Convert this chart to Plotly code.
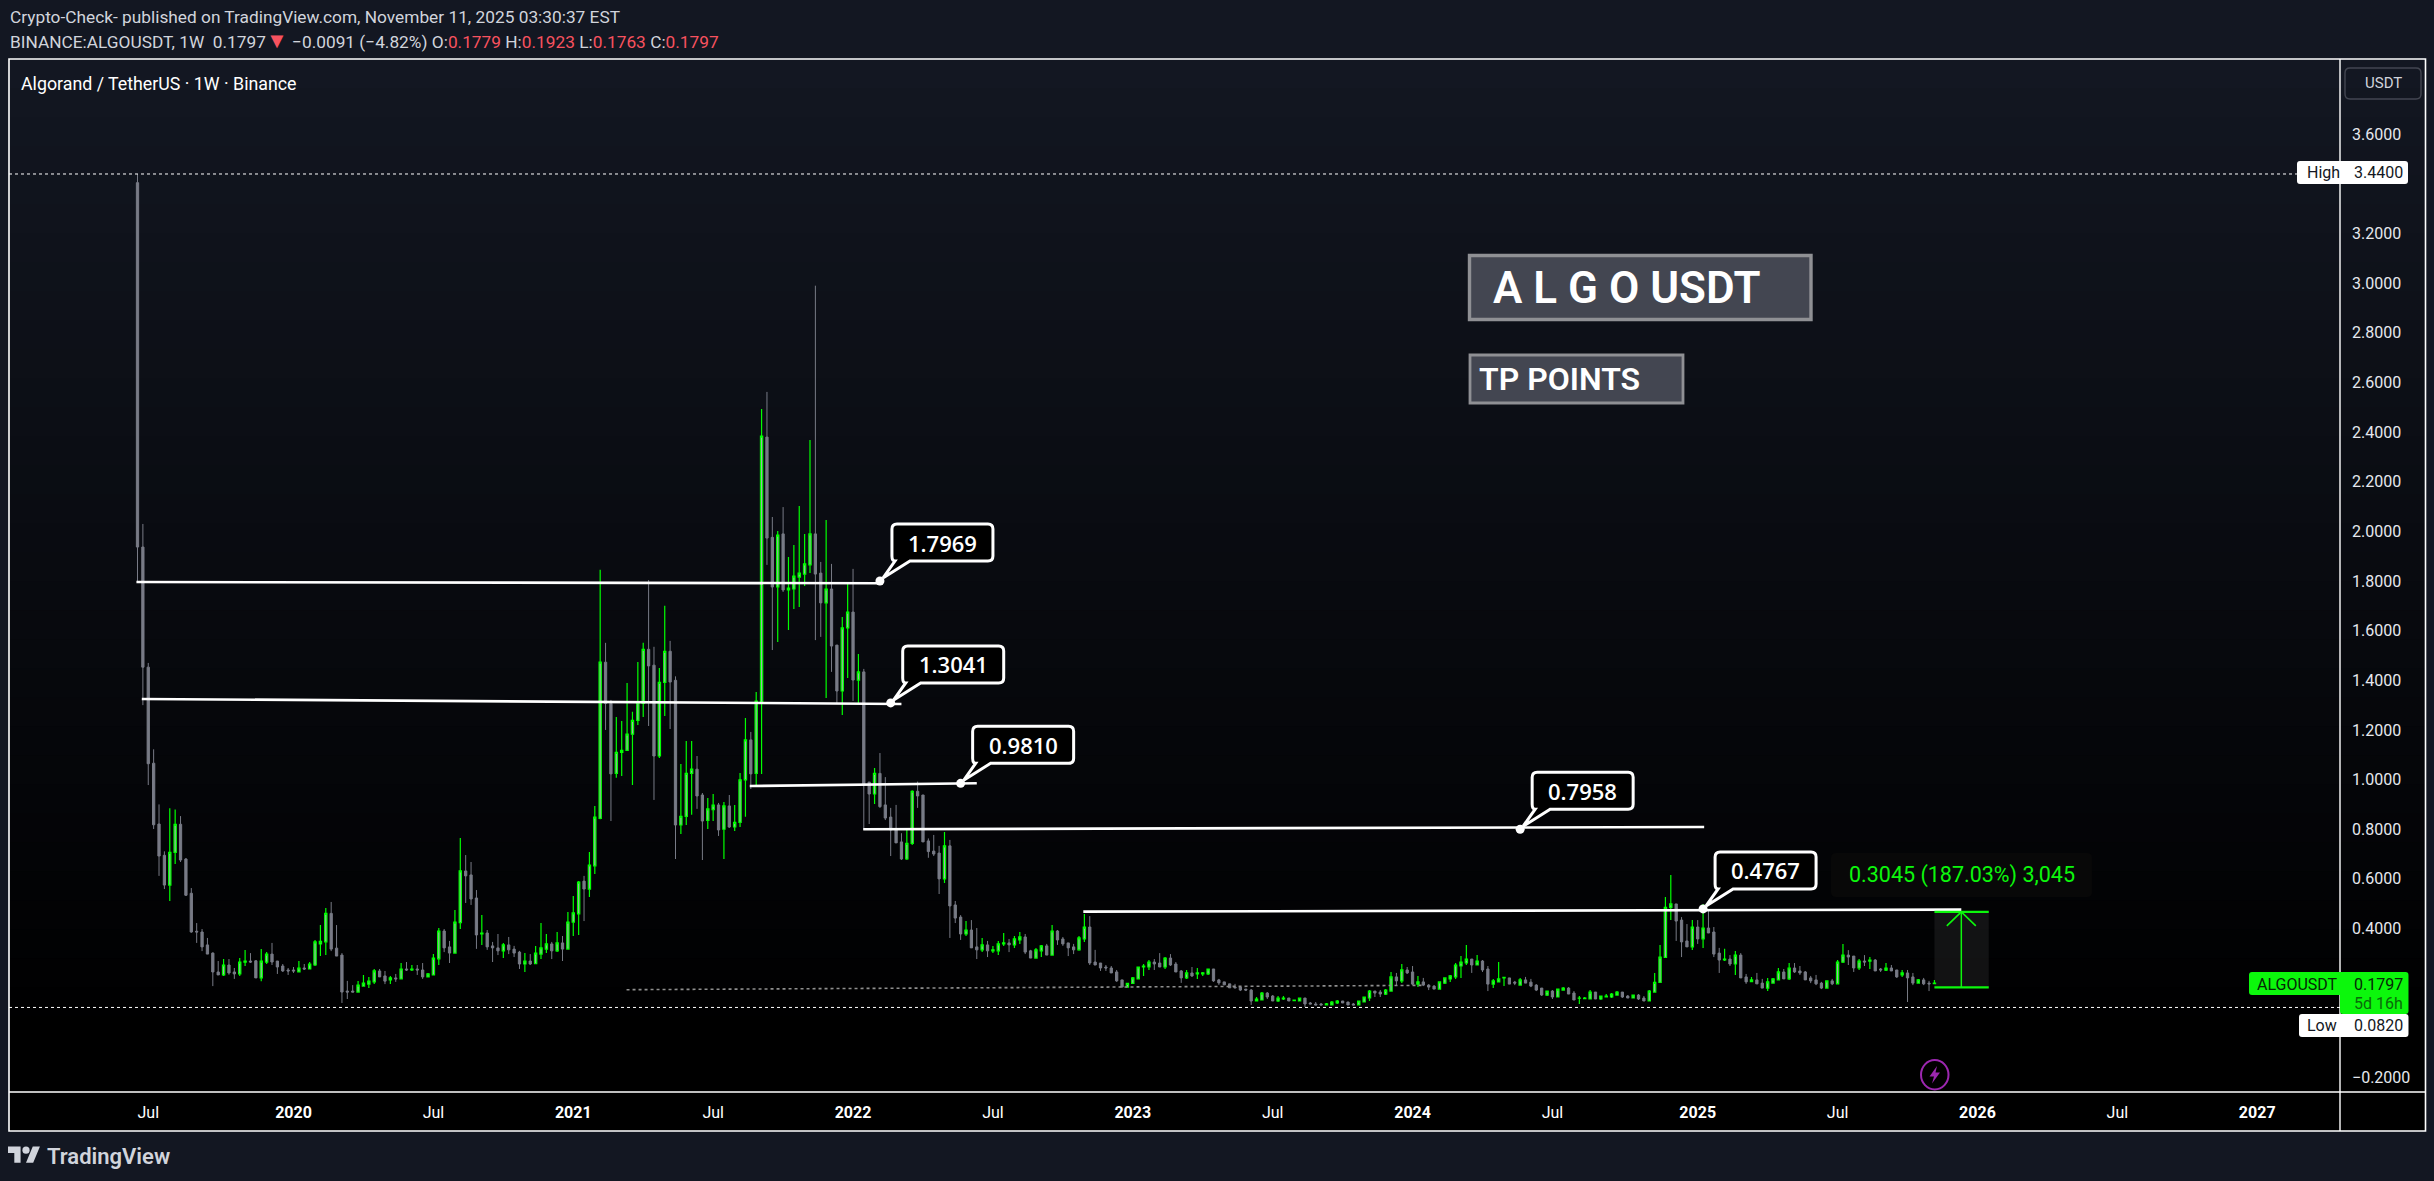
import pandas as pd
import plotly.graph_objs as go

W = 2434
H = 1181

# weekly bars
first_week = pd.Timestamp('2019-06-17')

opens = [3.405,1.937,1.453,1.066,.821,.695,.575,.707,.820,.680,
    .542,.389,.386,.334,.301,.225,.213,.253,.225,.217,
    .265,.269,.270,.201,.265,.297,.269,.249,.233,.233,
    .225,.241,.237,.253,.338,.346,.461,.321,.293,.148,
    .148,.144,.168,.176,.185,.229,.209,.193,.201,.197,
    .237,.233,.237,.233,.205,.213,.278,.390,.326,.301,
    .424,.632,.616,.523,.378,.382,.330,.322,.310,.334,
    .317,.305,.257,.269,.258,.297,.317,.338,.310,.342,
    .317,.426,.459,.591,.559,.652,.844,1.473,1.307,1.025,
    1.110,1.118,1.183,1.239,1.307,1.525,1.461,1.095,1.392,1.517,
    1.400,.817,.852,1.025,1.042,.938,.836,.879,.898,.800,
    .894,.809,.828,.999,1.160,1.025,1.312,2.380,1.976,1.776,
    1.990,1.764,1.768,1.816,1.828,1.865,1.990,1.832,1.712,1.768,
    1.542,1.357,1.611,1.675,1.401,1.434,.990,.942,1.025,.898,
    .849,.801,.749,.680,.743,.953,.938,.753,.712,.704,
    .600,.733,.495,.446,.378,.394,.326,.314,.334,.310,
    .310,.338,.342,.334,.354,.366,.310,.281,.310,.330,
    .293,.390,.358,.342,.326,.314,.358,.406,.265,.261,
    .245,.241,.225,.193,.164,.179,.197,.245,.245,.265,
    .261,.245,.281,.257,.229,.201,.221,.217,.217,.217,
    .237,.193,.185,.177,.164,.164,.156,.152,.108,.112,
    .140,.128,.108,.116,.120,.109,.108,.120,.100,.096,
    .096,.092,.092,.100,.108,.104,.096,.092,.104,.120,
    .148,.144,.136,.148,.205,.189,.233,.225,.176,.185,
    .172,.168,.156,.180,.197,.205,.249,.261,.277,.253,
    .269,.237,.176,.185,.201,.201,.184,.172,.193,.184,
    .172,.160,.132,.148,.124,.152,.160,.140,.119,.117,
    .116,.144,.116,.124,.124,.132,.144,.128,.120,.132,
    .120,.108,.144,.183,.284,.485,.499,.434,.350,.326,
    .406,.358,.402,.386,.301,.274,.277,.257,.293,.205,
    .186,.193,.180,.160,.180,.193,.225,.197,.241,.229,
    .225,.201,.193,.180,.160,.189,.177,.265,.293,.289,
    .241,.269,.269,.273,.237,.232,.241,.233,.213,.221,
    .205,.180,.193,.180,.1779]

highs = [3.44,2.03,1.470,1.122,.900,.711,.885,.880,.853,.684,
    .563,.422,.398,.362,.304,.269,.277,.277,.241,.281,
    .313,.301,.273,.317,.305,.342,.269,.257,.241,.245,
    .269,.257,.265,.354,.414,.483,.507,.414,.301,.189,
    .172,.189,.213,.205,.237,.237,.229,.209,.217,.261,
    .265,.253,.253,.261,.221,.297,.402,.398,.350,.475,
    .765,.696,.668,.555,.454,.394,.346,.378,.342,.366,
    .330,.310,.301,.297,.330,.422,.378,.346,.386,.370,
    .467,.531,.591,.612,.708,.894,1.845,1.551,1.321,1.252,
    1.236,1.389,1.273,1.474,1.551,1.804,1.535,1.450,1.700,1.559,
    1.416,1.063,1.156,1.156,1.095,.946,.926,.942,.906,.910,
    .938,.898,1.027,1.248,1.192,1.353,2.493,2.562,2.058,2.002,
    2.098,1.897,1.945,2.102,1.990,2.368,2.99,1.877,2.046,1.869,
    1.542,1.655,1.792,1.849,1.506,1.446,.990,1.047,1.107,1.010,
    .886,.898,.784,.797,.957,.992,.938,.763,.777,.733,
    .789,.757,.511,.454,.430,.434,.402,.362,.350,.330,
    .350,.382,.358,.370,.386,.378,.314,.322,.334,.338,
    .414,.394,.366,.342,.338,.370,.458,.450,.314,.261,
    .253,.249,.233,.193,.179,.205,.245,.257,.273,.277,
    .301,.285,.297,.265,.233,.233,.245,.241,.225,.237,
    .237,.197,.185,.177,.177,.168,.156,.156,.124,.144,
    .144,.132,.128,.128,.120,.112,.120,.120,.104,.104,
    .100,.100,.108,.112,.108,.104,.100,.108,.124,.152,
    .148,.152,.156,.225,.221,.257,.245,.249,.209,.201,
    .176,.172,.185,.201,.213,.261,.289,.334,.277,.293,
    .273,.249,.197,.265,.205,.201,.189,.201,.205,.197,
    .176,.160,.148,.152,.156,.164,.164,.148,.128,.124,
    .152,.144,.128,.136,.140,.148,.144,.132,.132,.136,
    .128,.152,.221,.334,.527,.616,.499,.446,.418,.434,
    .434,.499,.474,.406,.322,.318,.293,.309,.301,.217,
    .205,.221,.197,.201,.201,.241,.237,.261,.261,.249,
    .229,.209,.213,.185,.189,.197,.273,.338,.313,.289,
    .277,.293,.285,.277,.241,.261,.253,.233,.233,.233,
    .221,.197,.201,.189,.1923]

lows = [1.80,1.30,.978,.801,.612,.559,.511,.660,.668,.531,
    .383,.342,.309,.297,.168,.213,.209,.214,.197,.209,
    .249,.261,.201,.188,.257,.253,.217,.225,.213,.221,
    .225,.233,.237,.249,.289,.293,.309,.289,.100,.116,
    .144,.144,.168,.160,.176,.205,.176,.176,.185,.197,
    .229,.229,.213,.197,.205,.213,.253,.305,.261,.301,
    .398,.503,.495,.318,.334,.314,.265,.293,.281,.297,
    .285,.237,.225,.253,.258,.277,.301,.277,.305,.269,
    .317,.370,.374,.430,.527,.620,.840,1.200,.833,1.007,
    1.015,1.118,.978,1.220,1.252,1.216,.918,1.087,1.256,1.204,
    .680,.781,.817,.858,.882,.676,.801,.833,.773,.680,
    .805,.793,.809,.850,.962,.978,1.023,1.865,1.522,1.554,
    1.756,1.603,1.687,1.695,1.780,1.832,1.562,1.575,1.329,1.434,
    1.305,1.260,1.409,1.317,1.307,.797,.821,.902,.886,.837,
    .692,.745,.676,.676,.736,.886,.749,.685,.692,.539,
    .583,.362,.422,.354,.370,.322,.277,.305,.285,.301,
    .293,.330,.305,.322,.338,.297,.281,.281,.285,.293,
    .293,.334,.330,.289,.297,.310,.346,.253,.253,.229,
    .229,.221,.185,.164,.164,.177,.197,.209,.233,.233,
    .245,.237,.249,.225,.181,.197,.205,.197,.209,.213,
    .185,.173,.173,.161,.161,.148,.148,.092,.108,.112,
    .116,.108,.104,.112,.108,.108,.108,.084,.096,.092,
    .092,.092,.092,.096,.100,.092,.092,.092,.104,.108,
    .124,.124,.132,.148,.172,.180,.217,.172,.164,.168,
    .152,.156,.156,.176,.185,.197,.201,.253,.221,.253,
    .225,.148,.160,.185,.168,.176,.172,.172,.180,.164,
    .148,.128,.128,.116,.124,.152,.136,.112,.096,.116,
    .116,.116,.112,.124,.120,.132,.120,.120,.120,.112,
    .108,.108,.144,.183,.284,.434,.350,.285,.326,.313,
    .338,.322,.382,.285,.221,.269,.249,.213,.201,.177,
    .186,.177,.160,.148,.180,.193,.197,.193,.221,.213,
    .193,.180,.172,.156,.160,.172,.177,.261,.253,.225,
    .233,.249,.237,.229,.225,.229,.229,.201,.205,.104,
    .172,.177,.172,.148,.1763]

closes = [1.937,1.453,1.064,.818,.692,.575,.707,.820,.676,.534,
    .386,.386,.326,.297,.225,.213,.253,.221,.217,.265,
    .269,.265,.201,.269,.297,.265,.245,.229,.229,.229,
    .241,.237,.257,.346,.348,.461,.317,.289,.144,.144,
    .144,.172,.180,.188,.229,.205,.188,.201,.197,.237,
    .233,.237,.233,.205,.217,.281,.390,.322,.301,.426,
    .632,.612,.519,.374,.382,.326,.322,.310,.334,.314,
    .301,.257,.269,.257,.301,.322,.338,.310,.342,.317,
    .426,.463,.587,.559,.656,.849,1.473,1.307,1.023,1.110,
    1.118,1.183,1.239,1.312,1.525,1.458,1.095,1.392,1.517,1.393,
    .817,.852,1.025,1.042,.934,.833,.882,.897,.797,.894,
    .809,.828,.999,1.160,1.023,1.316,2.384,1.973,1.776,1.985,
    1.764,1.772,1.820,1.832,1.869,1.990,1.828,1.712,1.768,1.538,
    1.357,1.611,1.675,1.401,1.434,.982,.942,1.025,.891,.845,
    .797,.745,.680,.743,.953,.934,.749,.710,.700,.600,
    .733,.491,.442,.378,.394,.322,.314,.334,.310,.314,
    .338,.342,.334,.358,.366,.305,.281,.314,.330,.293,
    .390,.354,.338,.322,.314,.362,.406,.261,.253,.241,
    .241,.221,.189,.164,.179,.201,.245,.249,.265,.257,
    .245,.281,.253,.225,.201,.221,.209,.221,.221,.237,
    .189,.181,.173,.161,.161,.152,.152,.108,.116,.140,
    .124,.108,.120,.120,.108,.112,.120,.096,.096,.092,
    .092,.096,.104,.108,.100,.092,.092,.108,.124,.148,
    .140,.136,.152,.205,.189,.233,.221,.176,.185,.172,
    .164,.156,.185,.201,.209,.253,.265,.277,.253,.269,
    .233,.176,.189,.197,.203,.176,.180,.193,.180,.168,
    .152,.132,.148,.124,.156,.160,.136,.112,.120,.120,
    .144,.116,.128,.128,.136,.144,.124,.120,.132,.116,
    .108,.148,.183,.285,.485,.499,.430,.346,.326,.406,
    .358,.402,.382,.297,.273,.277,.257,.293,.201,.185,
    .193,.177,.160,.185,.197,.225,.197,.241,.225,.221,
    .193,.189,.177,.160,.189,.177,.265,.293,.285,.241,
    .269,.265,.273,.229,.233,.241,.229,.205,.221,.201,
    .180,.193,.177,.177,.1797]

assert len(opens) == len(highs) == len(lows) == len(closes) == 335

price_ticks = [3.6,3.2,3.0,2.8,2.6,2.4,2.2,2.0,1.8,1.6,1.4,1.2,1.0,0.8,0.6,0.4,-0.2]
price_labels = ['3.6000','3.2000','3.0000','2.8000','2.6000','2.4000','2.2000','2.0000','1.8000',
    '1.6000','1.4000','1.2000','1.0000','0.8000','0.6000','0.4000','\u22120.2000']
time_ticks = ['2019-07-01','2020-01-06','2020-07-06','2021-01-04','2021-07-05','2022-01-03','2022-07-04','2023-01-02',
    '2023-07-03','2024-01-01','2024-07-01','2025-01-06','2025-07-07','2026-01-05','2026-07-06','2027-01-04']
time_labels = ['Jul','<b>2020</b>','Jul','<b>2021</b>','Jul','<b>2022</b>','Jul','<b>2023</b>',
    'Jul','<b>2024</b>','Jul','<b>2025</b>','Jul','<b>2026</b>','Jul','<b>2027</b>']

# drawn levels: bar number where they start and stop, price at both ends
line_from = [-0.2,0.8,113.8,134.9,175.8]
line_to = [138,142,156,291.2,339]
line_from_price = [1.796,1.325,0.974,0.800,0.468]
line_to_price = [1.791,1.3047,0.985,0.809,0.476]
dot_bars = [138,140,153,257,291]
dot_prices = [1.800,1.309,0.985,0.800,0.479]
dot_labels = ['1.7969','1.3041','0.9810','0.7958','0.4767']

high_price = 3.44
low_price = 0.082
measure_low = 0.1628
measure_high = 0.4673

GREEN = '#0cf70c'
GRAY = '#787b86'
BG = '#131722'
TEXT = '#d1d4dc'

PANE_L, PANE_R, PANE_T, PANE_B = 9, 2340, 59, 1092
FRAME_R, FRAME_B = 2425.5, 1131
PX_PER_WEEK = 5.38
FIRST_BAR_PX = 137.5


def week(n):
    return first_week + pd.Timedelta(days=7 * n)


def px(x, y):
    return '%.5f %.5f' % (x / W, 1 - y / H)


def rect(x0, y0, x1, y1, **kw):
    return dict(type='rect', xref='paper', yref='paper', x0=x0 / W, x1=x1 / W, y0=1 - y0 / H, y1=1 - y1 / H, **kw)


def rrect(x0, y0, x1, y1, r, **kw):
    path = 'M ' + px(x0 + r, y0) + ' L ' + px(x1 - r, y0) + ' Q ' + px(x1, y0) + ' ' + px(x1, y0 + r) \
        + ' L ' + px(x1, y1 - r) + ' Q ' + px(x1, y1) + ' ' + px(x1 - r, y1) \
        + ' L ' + px(x0 + r, y1) + ' Q ' + px(x0, y1) + ' ' + px(x0, y1 - r) \
        + ' L ' + px(x0, y0 + r) + ' Q ' + px(x0, y0) + ' ' + px(x0 + r, y0) + ' Z'
    return dict(type='path', xref='paper', yref='paper', path=path, **kw)


def note(x, y, text, size=16, color=TEXT, anchor='left', weight=None, family='Roboto'):
    return dict(xref='paper', yref='paper', x=x / W, y=1 - y / H, text=text, showarrow=False,
                xanchor=anchor, yanchor='middle', align='left',
                font=dict(family=family, size=size, color=color, weight=weight))


dates = [week(i) for i in range(len(opens))]

fig = go.Figure()
fig.add_trace(go.Candlestick(
    x=dates, open=opens, high=highs, low=lows, close=closes,
    increasing=dict(line=dict(color='#00ff00', width=1.2), fillcolor='#a6aab2'),
    decreasing=dict(line=dict(color=GRAY, width=1), fillcolor=GRAY),
    whiskerwidth=0,
    hoverinfo='skip',
))

# faint dotted trend under the lows
fig.add_trace(go.Scatter(x=[week(90.9), week(239)], y=[0.1535, 0.171], mode='lines',
                         line=dict(color='#8f8f8f', width=1.6, dash='dot'), hoverinfo='skip'))

for a, b, pa, pb in zip(line_from, line_to, line_from_price, line_to_price):
    fig.add_trace(go.Scatter(x=[week(a), week(b)], y=[pa, pb], mode='lines',
                             line=dict(color='#ffffff', width=2.6), hoverinfo='skip'))

# measure tool shaft
fig.add_trace(go.Scatter(x=[week(339), week(339)], y=[measure_low, measure_high], mode='lines',
                         line=dict(color=GREEN, width=1.5), hoverinfo='skip'))

shapes = []
# pane fades from the page colour at the top to black at the bottom
steps = 34
for i in range(steps):
    f = 1 - i / (steps - 1)
    col = 'rgb(%d,%d,%d)' % (0x13 * f, 0x17 * f, 0x22 * f)
    top = PANE_T + (FRAME_B - PANE_T) * 0.92 * i / steps
    shapes.append(rect(PANE_L, top, FRAME_R, FRAME_B, fillcolor=col, line=dict(width=0), layer='below'))

# high and low price lines
for p in [high_price, low_price]:
    shapes.append(dict(type='line', xref='paper', yref='y', x0=PANE_L / W, x1=PANE_R / W, y0=p, y1=p,
                       line=dict(color='#ffffff', width=1, dash='dot')))

# measure tool
shapes.append(dict(type='rect', xref='x', yref='y', x0=week(334), x1=week(344.1), y0=measure_low, y1=measure_high,
                   fillcolor='rgba(255,255,255,0.07)', line=dict(width=0), layer='below'))
for p in [measure_low, measure_high]:
    shapes.append(dict(type='line', xref='x', yref='y', x0=week(334), x1=week(344.1), y0=p, y1=p,
                       line=dict(color=GREEN, width=2.2)))
shapes.append(dict(type='path', xref='x', yref='y', xsizemode='pixel', ysizemode='pixel',
                   xanchor=week(339), yanchor=measure_high, path='M -14.5 -14 L 0 0 L 14.5 -14',
                   line=dict(color=GREEN, width=1.6)))
shapes.append(rrect(1831, 853, 2092, 897, 5, fillcolor='#080808', line=dict(width=0)))

# callouts on the levels, same shape on each dot
callout = 'M 30 20 L 108 20 Q 113 20 113 25 L 113 52 Q 113 57 108 57 L 17 57 Q 12 57 12 52 L 12 25 Q 12 20 15 20 L 3 3 Z'
for b, p in zip(dot_bars, dot_prices):
    shapes.append(dict(type='path', xref='x', yref='y', xsizemode='pixel', ysizemode='pixel',
                       xanchor=week(b), yanchor=p, path=callout,
                       fillcolor='#000000', line=dict(color='#ffffff', width=3)))

fig.add_trace(go.Scatter(x=[week(b) for b in dot_bars], y=dot_prices, mode='markers',
                         marker=dict(color='#ffffff', size=9), hoverinfo='skip'))

# frame
shapes.append(rect(PANE_L, PANE_T, FRAME_R, FRAME_B, line=dict(color='#ffffff', width=1.6)))
shapes.append(dict(type='line', xref='paper', yref='paper', x0=PANE_R / W, x1=PANE_R / W, y0=1 - PANE_T / H, y1=1 - FRAME_B / H,
                   line=dict(color='#ffffff', width=1.4)))
shapes.append(dict(type='line', xref='paper', yref='paper', x0=PANE_L / W, x1=FRAME_R / W, y0=1 - PANE_B / H, y1=1 - PANE_B / H,
                   line=dict(color='#ffffff', width=1.4)))

# text boxes
shapes.append(rect(1469.5, 255.5, 1811, 319.5, fillcolor='#434651', line=dict(color='#8f9094', width=3.4)))
shapes.append(rect(1470, 355, 1683, 403, fillcolor='#434651', line=dict(color='#8f9094', width=2.8)))

# scale tags
shapes.append(rrect(2345, 68, 2421, 99, 5, line=dict(color='#434651', width=1.4)))
shapes.append(rrect(2297, 161, 2408, 184, 3, fillcolor='#ffffff', line=dict(width=0)))
shapes.append(rrect(2249, 972, 2350, 995, 3, fillcolor=GREEN, line=dict(width=0)))
shapes.append(rrect(2340, 972, 2408.5, 1014, 3, fillcolor=GREEN, line=dict(width=0)))
shapes.append(rrect(2299, 1014, 2408.5, 1037, 3, fillcolor='#ffffff', line=dict(width=0)))

# lightning badge
shapes.append(dict(type='circle', xref='paper', yref='paper', x0=1921 / W, x1=1948.5 / W, y0=1 - 1060 / H, y1=1 - 1089.5 / H,
                   line=dict(color='#9c27b0', width=2)))
shapes.append(dict(type='path', xref='paper', yref='paper',
                   path='M ' + px(1937, 1066) + ' L ' + px(1929.5, 1076.5) + ' L ' + px(1934, 1076.5) + ' L ' + px(1932, 1083.5)
                        + ' L ' + px(1940, 1072.5) + ' L ' + px(1935.5, 1072.5) + ' Z',
                   fillcolor='#9c27b0', line=dict(width=0)))

# logo, bottom left
s = 0.9
ox, oy = 8, 1143
def lg(x, y):
    return px(ox + x * s, oy + y * s)
shapes.append(dict(type='path', xref='paper', yref='paper',
                   path='M ' + lg(14, 22) + ' L ' + lg(7, 22) + ' L ' + lg(7, 11) + ' L ' + lg(0, 11) + ' L ' + lg(0, 4) + ' L ' + lg(14, 4) + ' Z '
                        + 'M ' + lg(28, 22) + ' L ' + lg(20, 22) + ' L ' + lg(27.5, 4) + ' L ' + lg(35.5, 4) + ' Z',
                   fillcolor='#d1d4dc', line=dict(width=0)))
shapes.append(dict(type='circle', xref='paper', yref='paper', x0=(ox + 16 * s) / W, x1=(ox + 24 * s) / W,
                   y0=1 - (oy + 4 * s) / H, y1=1 - (oy + 12 * s) / H, fillcolor='#d1d4dc', line=dict(width=0)))

RED = '#f7525f'
header2 = 'BINANCE:ALGOUSDT, 1W\u00a0\u00a00.1797<span style="color:%s;font-size:22px">\u25bc</span> \u22120.0091 (\u22124.82%%) O:<span style="color:%s">0.1779</span> H:<span style="color:%s">0.1923</span> L:<span style="color:%s">0.1763</span> C:<span style="color:%s">0.1797</span>' % (RED, RED, RED, RED, RED)

annotations = [
    note(8, 17.5, 'Crypto-Check- published on TradingView.com, November 11, 2025 03:30:37 EST', size=17.3),
    note(8, 40, header2, size=17.3),
    note(19, 83, 'Algorand / TetherUS \u00b7 1W \u00b7 Binance', size=17.8, color='#ffffff'),
    note(1491, 288, 'A L G O USDT', size=44, color='#ffffff', weight=600),
    note(1477, 379, 'TP POINTS', size=32, color='#ffffff', weight=600),
    note(2383, 83.5, 'USDT', size=15, anchor='center'),
    note(2305, 172.5, 'High', size=16, color='#131722'),
    note(2352, 172.5, '3.4400', size=16, color='#131722'),
    note(2255, 984, 'ALGOUSDT', size=16, color='#062806'),
    note(2352, 984, '0.1797', size=16, color='#062806'),
    note(2352, 1003, '5d 16h', size=16, color='#0a6a0a'),
    note(2305, 1025.5, 'Low', size=16, color='#131722'),
    note(2352, 1025.5, '0.0820', size=16, color='#131722'),
    note(1847, 875, '0.3045 (187.03%) 3,045', size=21.5, color=GREEN),
    note(45, 1156, 'TradingView', size=22, color='#d1d4dc', weight=600),
]
for b, p, t in zip(dot_bars, dot_prices, dot_labels):
    annotations.append(dict(xref='x', yref='y', x=week(b), y=p, xshift=62.5, yshift=38.5, text=t, showarrow=False,
                            xanchor='center', yanchor='middle',
                            font=dict(family='Open Sans', size=22, color='#ffffff', weight=600)))

x_start = first_week + pd.Timedelta(days=7 * (PANE_L - FIRST_BAR_PX) / PX_PER_WEEK)
x_end = first_week + pd.Timedelta(days=7 * (PANE_R - FIRST_BAR_PX) / PX_PER_WEEK)
zero_px = 1027.8
px_per_unit = 248.2

fig.update_layout(
    width=W, height=H, autosize=False,
    margin=dict(l=0, r=0, t=0, b=0, pad=0),
    paper_bgcolor=BG, plot_bgcolor='rgba(0,0,0,0)',
    showlegend=False, boxgap=0.4,
    shapes=shapes, annotations=annotations,
    font=dict(family='Roboto', color=TEXT),
    xaxis=dict(
        type='date', domain=[PANE_L / W, PANE_R / W], range=[x_start, x_end],
        rangeslider=dict(visible=False), showgrid=False, zeroline=False, showline=False,
        tickmode='array', tickvals=time_ticks, ticktext=time_labels, ticks='', tickangle=0,
        tickfont=dict(family='Roboto', size=16, color='#ffffff'), ticklabelstandoff=9,
    ),
    yaxis=dict(
        side='right', domain=[1 - PANE_B / H, 1 - PANE_T / H],
        range=[(zero_px - PANE_B) / px_per_unit, (zero_px - PANE_T) / px_per_unit],
        showgrid=False, zeroline=False, showline=False,
        tickmode='array', tickvals=price_ticks, ticktext=price_labels, ticks='',
        tickfont=dict(family='Roboto', size=16, color='#e6e8ee'), ticklabelstandoff=11,
    ),
)

fig.write_html("out.html", config=dict(displayModeBar=False),
               post_script="document.body.style.margin='0';document.body.style.background='#131722';")
